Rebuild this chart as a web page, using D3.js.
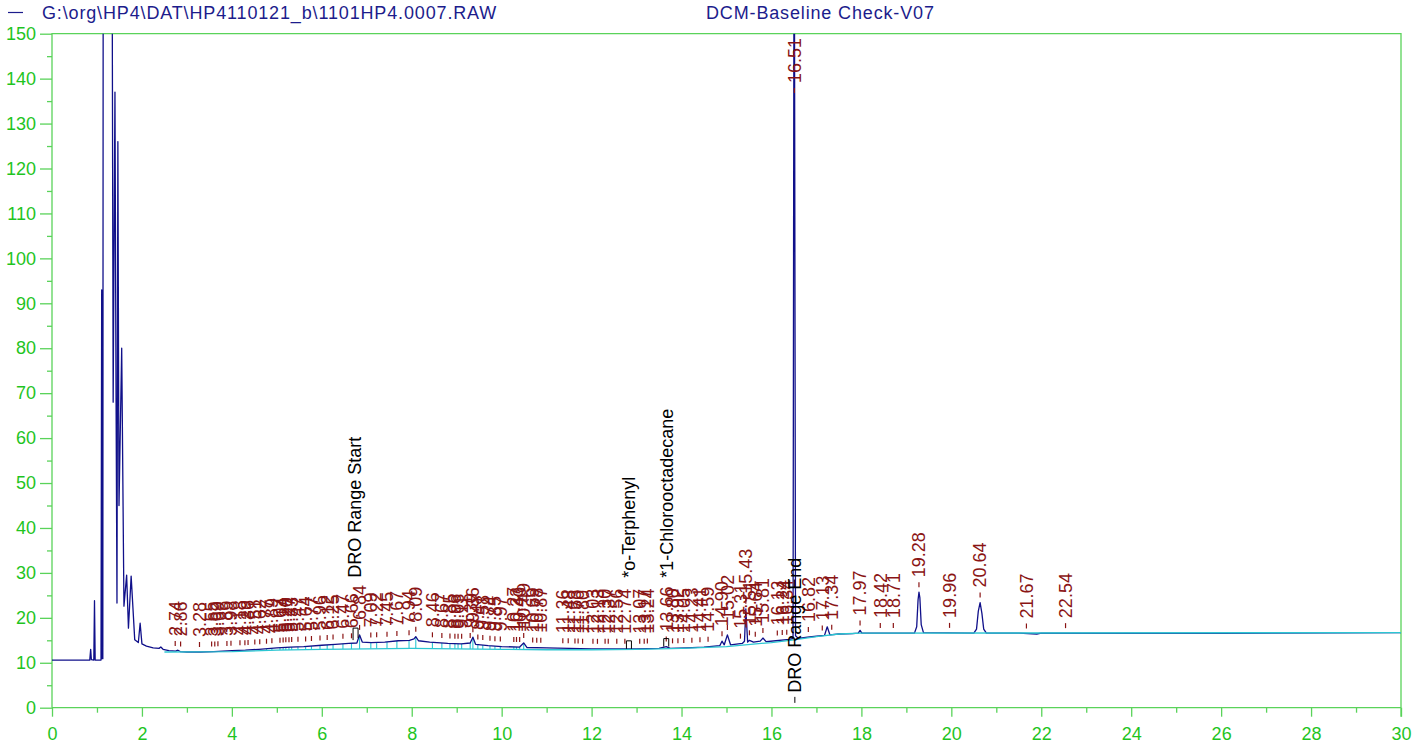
<!DOCTYPE html>
<html><head><meta charset="utf-8">
<script src="https://cdn.jsdelivr.net/npm/d3@7"></script>
<style>
html,body{margin:0;padding:0;background:#fff;}
svg{display:block;font-family:"Liberation Sans",Arial,Helvetica,sans-serif;}
</style></head><body>
<svg id="c" width="1424" height="747"></svg>
<script>
// ---------------- data ----------------
const fileName = "G:\\org\\HP4\\DAT\\HP4110121_b\\1101HP4.0007.RAW";
const methodName = "DCM-Baseline Check-V07";
const xMajorTicks = [0,2,4,6,8,10,12,14,16,18,20,22,24,26,28,30];
const xMinorTicks = [1,3,5,7,9,11,13,15,17,19,21,23,25,27,29];
const yMajorTicks = [0,10,20,30,40,50,60,70,80,90,100,110,120,130,140,150];
const yMinorTicks = [5,15,25,35,45,55,65,75,85,95,105,115,125,135,145];

// chromatogram trace [time (min), response]
const trace = [
[0,10.6],[0.84,10.6],[0.86,13.0],[0.875,10.7],[0.93,10.6],[0.945,23.8],[0.96,10.6],[1.09,10.6],
[1.105,93],[1.115,10.9],[1.13,10.9],[1.14,200],[1.33,200],[1.36,68],[1.40,137],[1.425,68],
[1.445,23.3],[1.465,126],[1.49,45],[1.55,80],[1.60,22.6],[1.66,29.5],[1.70,17.7],[1.76,29.3],
[1.84,15.1],[1.92,14.5],[1.96,18.8],[2.0,14.2],[2.1,13.7],[2.25,13.3],[2.38,13.2],[2.42,13.5],
[2.47,13.0],[2.6,12.7],[2.75,12.6],[2.8,12.8],[2.85,12.5],[3.0,12.4],[3.3,12.4],[3.6,12.5],
[4.0,12.7],[4.3,12.8],[4.6,13.0],[5.0,13.3],[5.3,13.5],[5.6,13.6],[6.0,13.9],[6.3,14.1],
[6.6,14.3],[6.78,14.4],[6.84,16.2],[6.9,14.6],[7.1,14.5],[7.4,14.6],[7.7,14.9],[7.95,15.0],
[8.05,15.3],[8.09,15.8],[8.15,14.9],[8.4,14.6],[8.8,14.3],[9.1,14.2],[9.3,14.4],[9.36,15.7],
[9.42,14.1],[9.7,13.8],[10.0,13.6],[10.4,13.5],[10.49,14.4],[10.56,13.4],[11.0,13.3],[11.5,13.2],
[12.0,13.1],[12.5,13.1],[13.0,13.1],[13.5,13.2],[13.66,13.6],[13.75,13.2],[14.1,13.3],[14.5,13.5],
[14.85,13.8],[14.90,14.8],[14.95,14.0],[15.02,16.2],[15.09,14.0],[15.35,14.3],[15.40,14.8],[15.43,22.0],
[15.47,14.6],[15.51,15.0],[15.6,14.6],[15.75,14.8],[15.81,15.5],[15.88,14.7],[16.1,14.9],[16.4,15.2],
[16.48,15.4],[16.505,200],[16.535,16],[16.6,15.4],[16.8,15.7],[17.0,15.9],[17.18,16.1],[17.24,18.0],
[17.3,16.2],[17.5,16.4],[17.8,16.5],[17.93,16.6],[17.97,17.2],[18.01,16.6],[19.18,16.6],[19.23,18.0],
[19.26,24.0],[19.28,25.7],[19.30,24.5],[19.33,18.5],[19.38,16.7],[20.5,16.6],[20.56,17.5],[20.60,21.5],
[20.64,23.4],[20.68,21.0],[20.72,17.5],[20.78,16.6],[21.5,16.6],[21.9,16.4],[22.0,16.6],[26,16.55],[30,16.7]
];

// integration baseline
const baseline = [
[2.5,12.4],[4,12.5],[5,12.8],[6,13.0],[7,13.1],[8,13.2],[9,13.1],[10,13.0],[11,12.9],[12,12.9],
[13,13.0],[14,13.2],[15,13.6],[16,14.5],[16.5,15.1],[17,15.8],[17.5,16.4],[18,16.6],[30,16.7]
];

// peak retention-time labels
const peakLabels = [
"2.74","2.86","3.28","3.55","3.62","3.69","3.89","3.98","4.18","4.29","4.36","4.51","4.62","4.77",
"4.89","5.07","5.14","5.20","5.27","5.33","5.47","5.64","5.77","5.96","6.12","6.25","6.47","6.66",
"6.84","7.09","7.22","7.45","7.67","7.94","8.09","8.46","8.67","8.85","8.96","9.03","9.11","9.30",
"9.36","9.47","9.58","9.74","9.85","9.97","10.27","10.33","10.40","10.49","10.69","10.78","10.87",
"11.36","11.48","11.63","11.70","11.80","12.03","12.13","12.30","12.37","12.56","12.74","13.07",
"13.17","13.24","13.66","13.80","13.92","14.05","14.23","14.41","14.59","14.90","15.02","15.31",
"15.43","15.51","15.64","15.81","16.13","16.24","16.34","16.51","16.82","17.13","17.34","17.97",
"18.42","18.71","19.28","19.96","20.64","21.67","22.54"
];

// named compound / range annotations
const annotationNames = ["DRO Range Start","*o-Terphenyl","*1-Chlorooctadecane","DRO Range End"];
const annotationTimes = [6.74, 12.83, 13.66, 16.52];

// ---------------- drawing ----------------
const svg = d3.select("#c");
const X0 = 52, X1 = 1401, Y0 = 707.7, Y1 = 33.7;
const x = d3.scaleLinear().domain([0,30]).range([X0,X1]);
const y = d3.scaleLinear().domain([0,150]).range([Y0,Y1]);

const GREEN_LINE = "#5ad35a", GREEN_TEXT = "#1fc41f";
const NAVY = "#10108a", CYAN = "#2cc6d2", RED = "#8a1414";
const FONT = 18;

// header
svg.append("line").attr("x1",8).attr("x2",23).attr("y1",12.5).attr("y2",12.5)
  .attr("stroke","#1c1c8c").attr("stroke-width",1.2);
svg.append("text").attr("x",42).attr("y",19).attr("fill","#1c1c8c")
  .attr("font-size",FONT).attr("letter-spacing","0.85px").text(fileName);
svg.append("text").attr("x",706).attr("y",19).attr("fill","#1c1c8c")
  .attr("font-size",FONT).attr("letter-spacing","0.85px").text(methodName);

// axes
const gy = svg.append("g").attr("transform",`translate(${X0},0)`)
  .call(d3.axisLeft(y).tickValues(yMajorTicks).tickSize(12).tickPadding(4).tickFormat(d3.format("d")));
const gyMinor = svg.append("g").attr("transform",`translate(${X0},0)`)
  .call(d3.axisLeft(y).tickValues(yMinorTicks).tickSize(5).tickFormat(""));
const gx = svg.append("g").attr("transform",`translate(0,${Y0})`)
  .call(d3.axisBottom(x).tickValues(xMajorTicks).tickSize(9).tickPadding(11).tickFormat(d3.format("d")));
const gxMinor = svg.append("g").attr("transform",`translate(0,${Y0})`)
  .call(d3.axisBottom(x).tickValues(xMinorTicks).tickSize(5).tickFormat(""));
[gy,gyMinor,gx,gxMinor].forEach(g=>{
  g.select(".domain").remove();
  g.selectAll("line").attr("stroke",GREEN_LINE).attr("stroke-width",1.3);
  g.selectAll("text").attr("fill",GREEN_TEXT).attr("font-size",FONT)
    .attr("font-family","'Liberation Sans',Arial,Helvetica,sans-serif");
});
// frame
svg.append("path")
  .attr("d",`M${X0},${Y0}V${Y1}H${X1}V${Y0+9}M${X0},${Y0}H${X1}`)
  .attr("fill","none").attr("stroke",GREEN_LINE).attr("stroke-width",1.3);

// clip
svg.append("clipPath").attr("id","plotclip").append("rect")
  .attr("x",X0).attr("y",Y1).attr("width",X1-X0).attr("height",Y0-Y1);

const plot = svg.append("g").attr("clip-path","url(#plotclip)");
const line = d3.line().x(d=>x(d[0])).y(d=>y(d[1]));

// value along a polyline
function valueAt(arr,t){
  const i = d3.bisector(d=>d[0]).left(arr,t);
  if(i<=0) return arr[0][1];
  if(i>=arr.length) return arr[arr.length-1][1];
  const a=arr[i-1], b=arr[i];
  return a[1]+(b[1]-a[1])*(t-a[0])/(b[0]-a[0]);
}

const peakTimes = peakLabels.map(Number);

// baseline drop lines
plot.append("g").selectAll("line")
  .data(peakTimes.filter(t=>t>=4.7 && t<=10.6))
  .join("line")
  .attr("x1",d=>x(d)).attr("x2",d=>x(d))
  .attr("y1",d=>y(valueAt(baseline,d))).attr("y2",d=>y(valueAt(trace,d)))
  .attr("stroke",CYAN).attr("stroke-width",1.1);

plot.append("path").datum(trace).attr("d",line)
  .attr("fill","none").attr("stroke",NAVY).attr("stroke-width",1.3)
  .attr("stroke-linejoin","round");
plot.append("path").datum(baseline).attr("d",line)
  .attr("fill","none").attr("stroke",CYAN).attr("stroke-width",1.3);

// peak labels
const lab = svg.append("g");
peakTimes.forEach((t,i)=>{
  const v = Math.min(valueAt(trace,t), 136.8);
  const yb = y(v) - (v>=136.8 ? 0 : 5);
  lab.append("line").attr("x1",x(t)).attr("x2",x(t)).attr("y1",yb).attr("y2",yb-5)
    .attr("stroke",RED).attr("stroke-width",1.2);
  lab.append("text")
    .attr("transform",`translate(${x(t)},${yb-10}) rotate(-90)`)
    .attr("dy","0.35em").attr("fill",RED).attr("font-size",FONT)
    .text(peakLabels[i]);
});

// annotations
const annotBottom = [28.9, 28.9, 28.9, 3.3];
annotationNames.forEach((name,i)=>{
  const t = annotationTimes[i];
  svg.append("text")
    .attr("transform",`translate(${x(t)},${y(annotBottom[i])}) rotate(-90)`)
    .attr("dy","0.35em").attr("fill","#000").attr("font-size",FONT)
    .text(name);
});
// retention window markers
[1,2].forEach(i=>{
  const t = annotationTimes[i], yy = y(valueAt(trace,t));
  svg.append("path").attr("d",`M${x(t)-2.5},${yy}V${yy-8}H${x(t)+2.5}V${yy}`)
    .attr("fill","none").attr("stroke","#000").attr("stroke-width",1);
});
{
  const t = annotationTimes[0], yy = y(valueAt(trace,t));
  svg.append("path").attr("d",`M${x(t)-2},${yy-3}V${yy-15}H${x(t)+3}V${yy-5}`)
    .attr("fill","none").attr("stroke","#000").attr("stroke-width",1);
  const t2 = annotationTimes[3];
  svg.append("line").attr("x1",x(t2)).attr("x2",x(t2)).attr("y1",y(annotBottom[3])+4).attr("y2",y(annotBottom[3])+10)
    .attr("stroke","#000").attr("stroke-width",1);
}
</script></body></html>
